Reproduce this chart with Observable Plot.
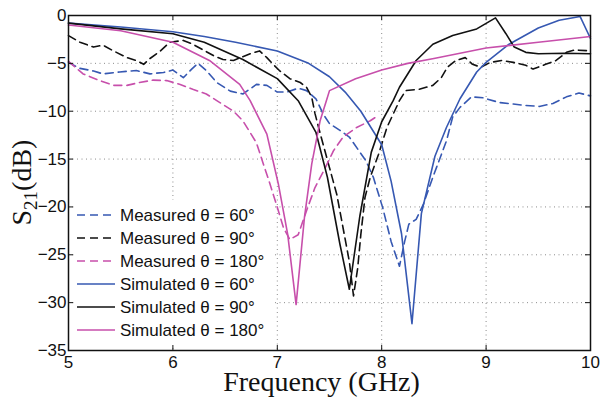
<!DOCTYPE html>
<html>
<head>
<meta charset="utf-8">
<script src="https://cdn.jsdelivr.net/npm/d3@7"></script>
<script src="https://cdn.jsdelivr.net/npm/@observablehq/plot@0.6"></script>
<style>
  html, body { margin: 0; padding: 0; background: #fff; }
  #chart svg { display: block; }
</style>
</head>
<body>
<div id="chart"></div>
<script>
// ---- data (frequency in GHz, S21 in dB) ----
const xTicks = [5, 6, 7, 8, 9, 10];
const yTicks = [0, -5, -10, -15, -20, -25, -30, -35];
const xGrid = [6, 7, 8, 9];
const yGrid = [-5, -10, -15, -20, -25, -30];

const measF60 = [5.0, 5.1, 5.24, 5.33, 5.49, 5.65, 5.78, 5.91, 6.0, 6.1, 6.18, 6.24, 6.32, 6.42, 6.55, 6.67, 6.8, 6.9, 7.0, 7.09, 7.2, 7.28, 7.37, 7.44, 7.5, 7.6, 7.69, 7.85, 7.92, 8.01, 8.09, 8.17, 8.22, 8.26, 8.33, 8.4, 8.49, 8.62, 8.68, 8.75, 8.86, 8.97, 9.13, 9.26, 9.38, 9.51, 9.64, 9.77, 9.89, 10.0];
const measDb60 = [-4.9, -5.5, -5.8, -6.1, -5.9, -5.75, -6.1, -5.95, -5.7, -6.5, -5.6, -5.0, -5.75, -7.0, -7.9, -8.2, -7.2, -7.3, -8.0, -8.0, -7.6, -7.85, -8.7, -10.3, -11.3, -12.0, -12.7, -15.2, -16.9, -20.1, -23.6, -26.2, -23.6, -21.8, -21.3, -19.7, -16.9, -13.1, -10.6, -9.6, -8.5, -8.6, -9.1, -9.25, -9.4, -9.5, -9.2, -8.5, -8.1, -8.4];

const measF90 = [5.0, 5.11, 5.24, 5.33, 5.43, 5.56, 5.65, 5.72, 5.78, 5.88, 5.97, 6.1, 6.19, 6.29, 6.39, 6.48, 6.58, 6.74, 6.83, 6.9, 6.96, 7.02, 7.12, 7.22, 7.28, 7.33, 7.36, 7.42, 7.5, 7.57, 7.63, 7.69, 7.73, 7.77, 7.8, 7.84, 7.89, 7.97, 8.05, 8.17, 8.23, 8.36, 8.49, 8.57, 8.63, 8.71, 8.8, 8.87, 8.95, 9.04, 9.15, 9.26, 9.38, 9.45, 9.57, 9.67, 9.77, 9.85, 10.0];
const measDb90 = [-2.1, -2.8, -3.3, -3.1, -3.7, -4.4, -4.7, -5.1, -4.5, -3.7, -2.8, -2.6, -3.0, -3.6, -4.2, -4.6, -4.7, -4.0, -3.7, -4.4, -5.1, -5.75, -6.6, -7.0, -7.5, -8.55, -10.2, -12.7, -15.9, -18.7, -22.2, -25.7, -29.3, -26.4, -22.9, -19.0, -16.9, -14.5, -11.7, -8.9, -7.85, -7.7, -7.3, -6.5, -5.4, -4.7, -4.4, -5.1, -5.4, -4.9, -4.7, -4.9, -5.2, -5.6, -5.1, -4.7, -3.85, -3.6, -3.7];

const measF180 = [5.0, 5.14, 5.3, 5.43, 5.56, 5.68, 5.81, 5.94, 6.07, 6.19, 6.32, 6.45, 6.58, 6.67, 6.8, 6.86, 6.93, 7.01, 7.06, 7.12, 7.2, 7.28, 7.36, 7.46, 7.54, 7.63, 7.76, 7.89, 7.96];
const measDb180 = [-4.8, -6.1, -6.8, -7.3, -7.3, -7.0, -6.75, -6.8, -7.2, -7.7, -8.2, -9.1, -10.0, -11.0, -13.3, -15.3, -17.6, -20.4, -22.2, -23.4, -22.9, -20.4, -18.0, -15.9, -14.1, -12.7, -11.7, -11.0, -10.5];

const simF60 = [5.0, 5.5, 6.0, 6.3, 6.6, 7.0, 7.3, 7.5, 7.65, 7.8, 8.0, 8.09, 8.19, 8.29, 8.38, 8.51, 8.62, 8.75, 8.91, 9.0, 9.22, 9.5, 9.7, 9.9, 10.0];
const simDb60 = [-0.8, -1.2, -1.7, -2.2, -2.8, -3.7, -5.0, -6.4, -8.0, -10.0, -13.5, -17.3, -22.8, -32.2, -20.7, -14.7, -11.7, -8.7, -5.9, -4.9, -3.0, -1.3, -0.5, -0.1, -2.4];

const simF90 = [5.0, 5.5, 6.0, 6.3, 6.67, 7.0, 7.2, 7.37, 7.48, 7.6, 7.69, 7.79, 7.9, 8.0, 8.11, 8.17, 8.33, 8.49, 8.68, 8.91, 9.09, 9.19, 9.27, 9.38, 9.5, 9.75, 10.0];
const simDb90 = [-0.8, -1.4, -1.9, -2.8, -4.6, -6.6, -8.9, -12.2, -16.9, -23.9, -28.6, -21.0, -14.3, -11.1, -8.9, -7.5, -4.7, -3.0, -2.1, -1.4, -0.25, -1.9, -3.3, -3.85, -4.0, -3.95, -4.0];

const simF180 = [5.0, 5.5, 6.0, 6.35, 6.64, 6.74, 6.9, 7.01, 7.1, 7.18, 7.26, 7.33, 7.41, 7.47, 7.5, 7.75, 8.0, 8.25, 8.5, 9.0, 9.5, 10.0];
const simDb180 = [-1.0, -1.6, -2.8, -4.7, -7.2, -8.9, -12.4, -17.6, -22.9, -30.2, -21.1, -15.5, -11.0, -8.9, -7.85, -6.6, -5.7, -5.0, -4.5, -3.4, -2.8, -2.2];

const seriesLabels = ["Measured θ = 60°", "Measured θ = 90°", "Measured θ = 180°", "Simulated θ = 60°", "Simulated θ = 90°", "Simulated θ = 180°"];
const seriesColors = ["#3658b2", "#111111", "#c74fab", "#3658b2", "#111111", "#c74fab"];
const seriesDashed = [true, true, true, false, false, false];
const seriesF = [measF60, measF90, measF180, simF60, simF90, simF180];
const seriesDb = [measDb60, measDb90, measDb180, simDb60, simDb90, simDb180];

// ---- chart ----
const W = 601, H = 400;
const mL = 68, mR = 11, mT = 15, mB = 50;
const frameW = W - mL - mR, frameH = H - mT - mB;
const dash = "8,5";
const fmt = d => d < 0 ? "\u2212" + Math.abs(d) : String(d);

const lineMarks = seriesLabels.map((lab, i) =>
  Plot.line(d3.zip(seriesF[i], seriesDb[i]), {
    x: d => d[0], y: d => d[1],
    stroke: seriesColors[i], strokeWidth: 1.6,
    strokeDasharray: seriesDashed[i] ? dash : null
  })
);

const chart = Plot.plot({
  width: W, height: H,
  marginLeft: mL, marginRight: mR, marginTop: mT, marginBottom: mB,
  style: {fontFamily: "'Liberation Sans', Arial, sans-serif", fontSize: "17px", color: "#111", background: "#fff"},
  x: {domain: [5, 10], ticks: xTicks, tickSize: 0, tickPadding: 5, tickFormat: fmt, label: null},
  y: {domain: [-35, 0], ticks: yTicks, tickSize: 0, tickPadding: 2, tickFormat: fmt, label: null},
  marks: [
    Plot.ruleX(xGrid, {x: d => d, stroke: "#8c8c8c", strokeWidth: 1, strokeDasharray: "1,3.5"}),
    Plot.ruleY(yGrid, {y: d => d, stroke: "#8c8c8c", strokeWidth: 1, strokeDasharray: "1,3.5"}),
    ...lineMarks,
    Plot.tickX(xGrid, {x: d => d, insetTop: frameH - 5, stroke: "#111"}),
    Plot.tickX(xGrid, {x: d => d, insetBottom: frameH - 5, stroke: "#111"}),
    Plot.tickY(yGrid, {y: d => d, insetRight: frameW - 5, stroke: "#111"}),
    Plot.tickY(yGrid, {y: d => d, insetLeft: frameW - 5, stroke: "#111"}),
    Plot.frame({stroke: "#111", strokeWidth: 1.5}),
    Plot.text(["Frequency (GHz)"], {frameAnchor: "bottom", dx: -8, dy: 40, fontSize: 28, fontFamily: "'Liberation Serif', 'Times New Roman', serif", fill: "#111"})
  ]
});

document.getElementById("chart").append(chart);

// ---- y-axis label with subscript and in-plot legend ----
const svg = d3.select(chart);
const ylab = svg.append("text")
  .attr("transform", `translate(31,${mT + frameH / 2}) rotate(-90)`)
  .attr("text-anchor", "middle")
  .attr("font-family", "'Liberation Serif', 'Times New Roman', serif")
  .attr("font-size", 28)
  .attr("fill", "#111");
ylab.append("tspan").text("S");
ylab.append("tspan").attr("font-size", 19).attr("dy", 6).text("21");
ylab.append("tspan").attr("dy", -6).text("(dB)");

const leg = svg.append("g").attr("text-anchor", "start");
leg.append("rect").attr("x", mL + 7).attr("y", 200).attr("width", 197).attr("height", 145).attr("fill", "#fff");
seriesLabels.forEach((lab, i) => {
  const yy = 215 + i * 23;
  leg.append("line")
    .attr("x1", 77).attr("x2", 115).attr("y1", yy).attr("y2", yy)
    .attr("stroke", seriesColors[i]).attr("stroke-width", 1.6)
    .attr("stroke-dasharray", seriesDashed[i] ? dash : null);
  leg.append("text")
    .attr("x", 120).attr("y", yy).attr("dy", "0.36em")
    .attr("text-anchor", "start")
    .attr("font-family", "'Liberation Sans', Arial, sans-serif")
    .attr("font-size", 17).attr("fill", "#111")
    .text(lab);
});
</script>
</body>
</html>
